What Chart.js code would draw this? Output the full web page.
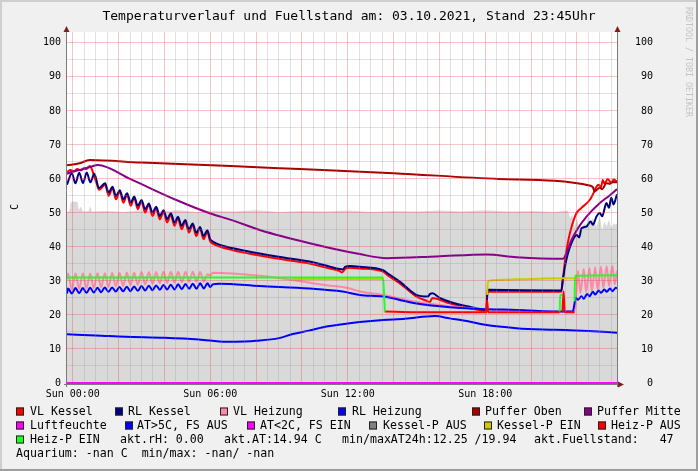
<!DOCTYPE html>
<html>
<head>
<meta charset="utf-8">
<script src="https://cdn.jsdelivr.net/npm/chart.js@4.4.0/dist/chart.umd.min.js"></script>
<style>
  html, body { margin: 0; padding: 0; background: #f0f0f0; }
  #graph { display: block; }
</style>
</head>
<body>
<canvas id="graph" width="698" height="471"></canvas>
<script>
// Titel und Achsen
const titel = 'Temperaturverlauf und Fuellstand am: 03.10.2021, Stand 23:45Uhr';
const einheit = 'C';
const xLabelStunden = [0, 6, 12, 18];
const xLabels = ['Sun 00:00', 'Sun 06:00', 'Sun 12:00', 'Sun 18:00'];
const yLabels = [0, 10, 20, 30, 40, 50, 60, 70, 80, 90, 100];

// Messwerte: [Stunde, Wert]
const fuellstand = [[-0.25,50.3],[-0.15,50.5],[-0.1,52.9],[0.0,53.4],[0.2,53.2],[0.27,50.8],[0.35,51.9],[0.45,50.4],[0.7,50.6],[0.75,52.0],[0.85,50.4],[1.5,50.6],[2.2,50.3],[3.0,50.7],[3.8,50.4],[4.6,50.8],[5.4,50.3],[6.2,50.6],[7.0,50.4],[8.0,50.8],[9.0,50.3],[10.0,50.6],[11.0,50.4],[12.0,50.7],[13.0,50.3],[14.0,50.6],[15.0,50.4],[16.0,50.7],[17.0,50.4],[18.0,50.8],[19.0,50.4],[20.0,50.6],[21.0,50.3],[21.6,50.7],[21.7,48.5],[21.8,49.5],[21.9,46.0],[22.0,48.5],[22.1,45.5],[22.2,44.5],[22.3,47.0],[22.4,46.5],[22.5,49.0],[22.6,47.5],[22.7,48.5],[22.85,46.0],[23.0,49.0],[23.1,45.0],[23.2,47.5],[23.3,46.0],[23.4,48.0],[23.5,45.5],[23.6,47.0],[23.7,46.5],[23.75,47.0]];

const vlKessel = [[-0.25,62.0],[-0.1,62.6],[0.05,62.2],[0.2,62.9],[0.35,62.5],[0.5,63.2],[0.6,62.9],[0.74,63.8],[0.85,62.6],[0.95,60.5],[1.05,58.5],[1.15,56.8],[1.41,58.3],[1.57,55.0],[1.73,57.3],[1.89,54.0],[2.05,56.3],[2.21,53.0],[2.37,55.4],[2.53,52.1],[2.68,54.4],[2.84,51.1],[3.0,53.4],[3.16,50.1],[3.32,52.4],[3.48,49.1],[3.64,51.4],[3.8,48.1],[3.96,50.4],[4.12,47.2],[4.28,49.5],[4.44,46.2],[4.59,48.5],[4.75,45.2],[4.91,47.5],[5.07,44.2],[5.23,46.5],[5.39,43.2],[5.55,45.5],[5.71,42.3],[5.87,44.4],[6.0,41.6],[6.11,41.0],[7.0,39.0],[8.16,37.5],[9.2,36.3],[10.34,35.1],[11.0,34.0],[11.65,32.9],[11.75,32.5],[11.9,33.6],[12.09,33.9],[12.52,33.7],[13.54,32.8],[13.75,31.6],[14.27,29.3],[15.0,25.4],[15.4,24.3],[15.58,23.8],[15.7,25.0],[16.0,24.5],[16.45,23.4],[17.32,22.0],[18.05,21.2],[18.1,26.9],[21.32,26.8],[21.38,30.0],[21.5,37.0],[21.6,41.1],[21.75,45.5],[21.98,49.9],[22.2,51.5],[22.56,53.8],[22.7,55.5],[22.85,57.7],[22.95,58.3],[23.05,57.5],[23.13,59.7],[23.2,58.6],[23.35,60.0],[23.5,58.8],[23.6,59.8],[23.75,59.2]];

const rlKessel = [[-0.25,58.3],[-0.04,61.7],[0.12,58.7],[0.28,61.8],[0.45,58.8],[0.61,61.9],[0.77,59.0],[0.94,61.5],[1.15,57.3],[1.41,58.7],[1.57,56.0],[1.73,57.7],[1.89,55.0],[2.05,56.7],[2.21,54.0],[2.37,55.8],[2.53,53.1],[2.68,54.8],[2.84,52.1],[3.0,53.8],[3.16,51.1],[3.32,52.8],[3.48,50.1],[3.64,51.8],[3.8,49.1],[3.96,50.8],[4.12,48.2],[4.28,49.9],[4.44,47.2],[4.59,48.9],[4.75,46.2],[4.91,47.9],[5.07,45.2],[5.23,46.9],[5.39,44.2],[5.55,45.9],[5.71,43.2],[5.87,44.9],[6.0,42.3],[6.11,41.6],[7.0,39.6],[8.16,38.1],[9.2,36.9],[10.34,35.7],[11.0,34.6],[11.65,33.5],[11.78,33.4],[11.9,34.2],[12.09,34.4],[12.52,34.2],[13.54,33.2],[13.75,32.2],[14.27,29.8],[15.0,25.9],[15.49,25.4],[15.6,26.2],[15.7,26.4],[16.0,25.1],[16.45,23.9],[17.32,22.4],[18.05,21.5],[18.1,27.4],[21.32,27.2],[21.38,30.0],[21.54,36.2],[21.82,42.0],[22.0,43.5],[22.1,42.8],[22.2,45.5],[22.42,46.0],[22.6,47.5],[22.7,46.5],[22.85,48.9],[23.0,50.0],[23.1,49.0],[23.29,52.9],[23.4,51.5],[23.5,54.5],[23.6,52.5],[23.72,54.8],[23.75,55.5]];

const vlHeizung = [[-0.25,30.5],[-0.2,32.2],[-0.04,27.6],[0.12,32.2],[0.28,27.7],[0.44,32.3],[0.6,27.8],[0.76,32.2],[0.92,27.9],[1.08,32.3],[1.24,28.1],[1.4,32.3],[1.56,28.2],[1.72,32.4],[1.88,28.4],[2.04,32.4],[2.2,28.5],[2.36,32.5],[2.52,28.7],[2.68,32.5],[2.84,28.8],[3.0,32.6],[3.16,29.0],[3.32,32.6],[3.48,29.1],[3.64,32.6],[3.8,29.3],[3.96,32.7],[4.12,29.4],[4.28,32.7],[4.44,29.5],[4.6,32.7],[4.76,29.6],[4.92,32.7],[5.08,29.7],[5.24,32.7],[5.4,29.8],[5.56,32.6],[5.72,29.8],[5.88,32.0],[6.0,31.6],[6.11,32.4],[8.16,31.5],[10.34,29.5],[11.0,28.8],[11.78,28.2],[12.09,27.8],[12.52,26.9],[13.54,25.9],[15.0,23.9],[16.45,22.6],[18.05,21.7],[21.3,21.0],[21.9,21.0],[21.98,27.0],[22.05,33.0],[22.15,26.5],[22.3,33.5],[22.4,26.8],[22.55,33.8],[22.65,27.0],[22.8,34.0],[22.9,27.5],[23.05,34.2],[23.15,28.0],[23.3,34.3],[23.4,28.5],[23.55,34.5],[23.65,29.0],[23.75,33.0]];

const rlHeizung = [[-0.25,26.3],[-0.2,27.8],[-0.04,26.3],[0.12,27.9],[0.28,26.4],[0.44,27.9],[0.6,26.5],[0.76,28.0],[0.92,26.6],[1.08,28.0],[1.24,26.7],[1.4,28.1],[1.56,26.8],[1.72,28.1],[1.88,26.9],[2.04,28.2],[2.2,27.0],[2.36,28.3],[2.52,27.0],[2.68,28.4],[2.84,27.1],[3.0,28.5],[3.16,27.2],[3.32,28.6],[3.48,27.3],[3.64,28.7],[3.8,27.4],[3.96,28.8],[4.12,27.5],[4.28,28.9],[4.44,27.5],[4.6,29.0],[4.76,27.6],[4.92,29.1],[5.08,27.7],[5.24,29.2],[5.4,27.7],[5.56,29.3],[5.72,27.8],[5.88,29.3],[6.0,28.2],[6.11,29.0],[6.4,29.2],[8.16,28.5],[10.34,27.8],[11.78,26.9],[12.52,25.9],[13.54,25.4],[15.0,23.4],[16.45,22.3],[18.05,21.7],[19.36,21.5],[21.4,21.0],[21.82,21.0],[21.95,25.0],[22.05,24.5],[22.2,25.5],[22.3,24.8],[22.45,26.2],[22.55,25.5],[22.7,26.8],[22.8,26.0],[22.95,27.2],[23.05,26.5],[23.2,27.5],[23.3,26.8],[23.45,27.8],[23.55,27.0],[23.7,28.0],[23.75,27.8]];

const pufferOben = [[-0.25,64.0],[0.3,64.6],[0.74,65.6],[3.0,64.8],[6.9,63.8],[9.9,62.9],[14.0,61.7],[18.6,60.0],[22.6,58.0],[22.7,57.5],[22.78,56.3],[22.9,57.0],[23.0,57.4],[23.1,57.0],[23.29,58.7],[23.45,58.6],[23.55,59.1],[23.75,59.0]];

const pufferMitte = [[-0.25,61.5],[0.0,62.2],[0.3,62.6],[0.5,63.0],[0.8,63.6],[1.09,64.1],[2.5,60.0],[4.52,53.8],[5.98,49.9],[6.94,47.9],[8.16,45.0],[10.34,41.1],[12.52,37.9],[13.69,36.7],[15.87,37.2],[18.05,37.8],[19.36,37.0],[21.4,36.5],[21.5,37.5],[21.76,42.0],[22.0,45.0],[22.42,48.9],[23.0,52.9],[23.4,55.0],[23.75,57.0]];

const luftfeuchte = [[-0.25,0],[23.75,0]];

const aussenTemp = [[-0.25,14.3],[1.0,14.0],[2.3,13.6],[4.0,13.3],[5.5,12.8],[6.7,12.1],[7.5,12.2],[8.0,12.4],[9.0,13.2],[9.6,14.4],[10.3,15.4],[11.07,16.6],[12.0,17.5],[12.52,17.9],[13.54,18.5],[14.5,18.9],[15.8,19.7],[16.45,19.0],[17.2,18.2],[18.0,17.1],[19.36,16.1],[20.5,15.7],[21.5,15.6],[22.5,15.3],[23.75,14.8]];

const aussenKalt = [];
const kesselPAus = [];

const kesselPEin = [[9.6,30.6],[13.54,30.6],[13.55,null],[18.07,null],[18.08,25.9],[18.12,29.8],[18.3,30.2],[21.4,30.8],[21.92,30.8],[21.93,null]];

const heizPAus = [[13.61,21.0],[15.0,20.8],[18.05,20.8],[18.08,24.4],[18.13,20.8],[21.24,20.8],[21.25,null],[21.36,null],[21.37,20.8],[21.42,27.0],[21.47,20.8],[21.9,20.8],[21.91,null]];

const heizPEin = [[-0.25,31.0],[13.54,31.0],[13.6,24.0],[13.62,21.0],[13.63,null],[21.24,null],[21.25,21.0],[21.27,25.9],[21.35,25.9],[21.36,null],[21.88,null],[21.9,24.0],[21.92,31.5],[23.75,31.7]];

// Legende
const serienNamen = ['VL Kessel', 'RL Kessel', 'VL Heizung', 'RL Heizung', 'Puffer Oben', 'Puffer Mitte',
  'Luftfeuchte', 'AT>5C, FS AUS', 'AT<2C, FS EIN', 'Kessel-P AUS', 'Kessel-P EIN', 'Heiz-P AUS', 'Heiz-P EIN'];
const serienFarben = ['#ff0000', '#000080', '#ff88a8', '#0000ff', '#aa0000', '#880088',
  '#ff00ff', '#0000ff', '#ff00ff', '#808080', '#cccc00', '#ff0000', '#22ff22'];
const serienDaten = [vlKessel, rlKessel, vlHeizung, rlHeizung, pufferOben, pufferMitte,
  luftfeuchte, aussenTemp, aussenKalt, kesselPAus, kesselPEin, heizPAus, heizPEin];
const infoTexte = ['akt.rH: 0.00', 'akt.AT:14.94 C', 'min/maxAT24h:12.25 /19.94', 'akt.Fuellstand:   47'];
const aquariumText = 'Aquarium: -nan C  min/max: -nan/ -nan';

// Legendenpositionen (Kasten x, Text x, Zeile)
const legendePos = [
  [16, 30, 0], [115, 128, 0], [220, 233, 0], [338, 352, 0], [472, 485, 0], [584, 597, 0],
  [16, 30, 1], [125, 137, 1], [247, 260, 1], [369, 383, 1], [484, 497, 1], [598, 611, 1],
  [16, 30, 2]
];
const infoPos = [120, 224, 342, 534];
const zeilenY = [411.5, 425.5, 439.5, 453.5];

const mono = 'DejaVu Sans Mono';
const gridMinor = 'rgba(143,143,143,0.26)';
const gridMajor = 'rgba(222,60,60,0.3)';

const toPoints = (pairs) => pairs.map(([x, y]) => ({ x, y }));

const datasets = serienDaten.map((d, i) => ({
  label: serienNamen[i],
  data: toPoints(d),
  borderColor: serienFarben[i],
  backgroundColor: serienFarben[i],
  borderWidth: 2,
  fill: false,
  order: 100 - i,
  clip: i === 6 ? false : undefined,
}));

datasets.push({
  label: 'Fuellstand',
  data: toPoints(fuellstand),
  borderWidth: 0,
  borderColor: 'rgba(0,0,0,0)',
  backgroundColor: '#d9d9d9',
  fill: 'origin',
  cubicInterpolationMode: 'default',
  tension: 0,
  order: 200,
});

const hourTicks = [];
for (let h = 0; h <= 23.5; h += 0.5) hourTicks.push(h);
const valueTicks = [];
for (let v = 0; v <= 100; v += 5) valueTicks.push(v);

const rrdLook = {
  id: 'rrdLook',
  beforeDraw(chart) {
    const { ctx, chartArea: a, width, height } = chart;
    ctx.save();
    ctx.fillStyle = '#f0f0f0';
    ctx.fillRect(0, 0, width, height);
    ctx.fillStyle = '#cfcfcf';
    ctx.fillRect(0, 0, width, 2);
    ctx.fillRect(0, 0, 2, height);
    ctx.fillStyle = '#9e9e9e';
    ctx.fillRect(0, height - 2, width, 2);
    ctx.fillRect(width - 2, 0, 2, height);
    ctx.fillStyle = '#ffffff';
    ctx.fillRect(a.left, a.top, a.right - a.left, a.bottom - a.top);
    ctx.restore();
  },
  afterDraw(chart) {
    const { ctx, chartArea: a } = chart;
    ctx.save();

    // Achsen
    ctx.strokeStyle = '#7a7a7a';
    ctx.lineWidth = 1;
    ctx.beginPath();
    ctx.moveTo(a.left - 0.5, 29); ctx.lineTo(a.left - 0.5, a.bottom + 4);
    ctx.moveTo(a.right + 0.5, 29); ctx.lineTo(a.right + 0.5, a.bottom + 4);
    ctx.moveTo(a.left - 3, a.bottom + 1.5); ctx.lineTo(a.right + 2, a.bottom + 1.5);
    ctx.stroke();

    // Pfeile
    ctx.fillStyle = '#7f1f1f';
    const pfeil = (pts) => {
      ctx.beginPath();
      ctx.moveTo(pts[0][0], pts[0][1]);
      ctx.lineTo(pts[1][0], pts[1][1]);
      ctx.lineTo(pts[2][0], pts[2][1]);
      ctx.closePath();
      ctx.fill();
    };
    pfeil([[a.left - 0.5, 26], [a.left - 3.5, 32], [a.left + 2.5, 32]]);
    pfeil([[a.right + 0.5, 26], [a.right - 2.5, 32], [a.right + 3.5, 32]]);
    pfeil([[a.right + 7, a.bottom + 1.5], [a.right + 1, a.bottom - 1.5], [a.right + 1, a.bottom + 4.5]]);

    // Titel
    ctx.fillStyle = '#000';
    ctx.font = `13px "${mono}"`;
    ctx.textAlign = 'center';
    ctx.textBaseline = 'middle';
    ctx.fillText(titel, 349, 17);

    // Einheit links
    ctx.save();
    ctx.translate(15, 207);
    ctx.rotate(-Math.PI / 2);
    ctx.font = `10px "${mono}"`;
    ctx.fillText(einheit, 0, 0);
    ctx.restore();

    // RRDTOOL Vermerk rechts
    ctx.save();
    ctx.translate(688, 7);
    ctx.rotate(Math.PI / 2);
    ctx.font = `8.3px "${mono}"`;
    ctx.fillStyle = '#c4c4c4';
    ctx.textAlign = 'left';
    ctx.fillText('RRDTOOL / TOBI OETIKER', 0, 0);
    ctx.restore();

    // Legende
    ctx.font = `11.6px "${mono}"`;
    ctx.textAlign = 'left';
    ctx.textBaseline = 'middle';
    legendePos.forEach(([bx, tx, row], i) => {
      const y = zeilenY[row];
      ctx.fillStyle = serienFarben[i];
      ctx.fillRect(bx, y - 4, 8, 8);
      ctx.strokeStyle = '#222';
      ctx.strokeRect(bx + 0.5, y - 3.5, 7, 7);
      ctx.fillStyle = '#000';
      ctx.fillText(serienNamen[i], tx, y);
    });
    infoTexte.forEach((t, i) => ctx.fillText(t, infoPos[i], zeilenY[2]));
    ctx.fillText(aquariumText, 16, zeilenY[3]);

    ctx.restore();
  }
};

const tickFont = { family: mono, size: 10 };

new Chart(document.getElementById('graph').getContext('2d'), {
  type: 'line',
  data: { datasets },
  options: {
    responsive: false,
    animation: false,
    layout: { padding: { top: 32, left: 0, right: 0, bottom: 0 } },
    elements: {
      point: { radius: 0 },
      line: { borderWidth: 2, cubicInterpolationMode: 'monotone' }
    },
    plugins: {
      legend: { display: false },
      title: { display: false },
      tooltip: { enabled: false }
    },
    scales: {
      x: {
        type: 'linear',
        min: -0.25,
        max: 23.75,
        afterBuildTicks: (s) => { s.ticks = hourTicks.map((v) => ({ value: v })); },
        afterFit: (s) => { s.height = 88; },
        border: { display: false },
        grid: {
          z: 1,
          drawTicks: false,
          color: (c) => (c.tick && c.tick.value % 2 === 0 ? gridMajor : gridMinor)
        },
        ticks: {
          autoSkip: false,
          maxRotation: 0,
          padding: 5,
          color: '#000',
          font: tickFont,
          callback: (v) => {
            const i = xLabelStunden.indexOf(v);
            return i >= 0 ? xLabels[i] : '';
          }
        }
      },
      y: {
        type: 'linear',
        position: 'left',
        min: 0,
        max: 103.2,
        afterBuildTicks: (s) => { s.ticks = valueTicks.map((v) => ({ value: v })); },
        afterFit: (s) => { s.width = 67; },
        border: { display: false },
        grid: {
          z: 1,
          drawTicks: false,
          color: (c) => (c.tick && c.tick.value % 10 === 0 ? gridMajor : gridMinor)
        },
        ticks: {
          padding: 6,
          color: '#000',
          font: tickFont,
          callback: (v) => (yLabels.includes(v) ? String(v) : '')
        }
      },
      y2: {
        type: 'linear',
        position: 'right',
        min: 0,
        max: 103.2,
        afterBuildTicks: (s) => { s.ticks = valueTicks.map((v) => ({ value: v })); },
        afterFit: (s) => { s.width = 81; },
        border: { display: false },
        grid: { display: false, drawTicks: false },
        ticks: {
          padding: 18,
          color: '#000',
          font: tickFont,
          callback: (v) => (yLabels.includes(v) ? String(v).padStart(3, ' ') : '')
        }
      }
    }
  },
  plugins: [rrdLook]
});
</script>
</body>
</html>
